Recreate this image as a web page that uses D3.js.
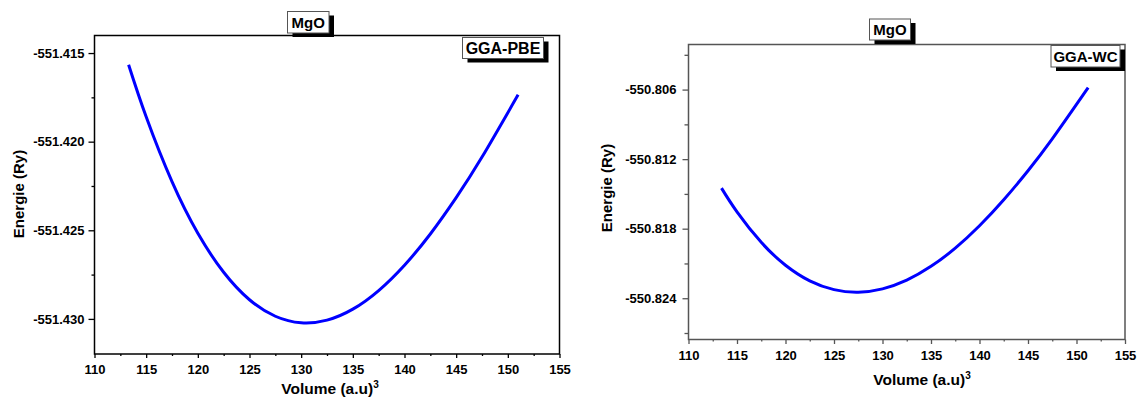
<!DOCTYPE html>
<html>
<head>
<meta charset="utf-8">
<script src="https://cdn.jsdelivr.net/npm/d3@7"></script>
<style>
  body { margin: 0; background: #fff; }
  svg { display: block; font-family: "Liberation Sans", Arial, sans-serif; }
  .tick text { font-family: "Liberation Sans", Arial, sans-serif; font-weight: bold; font-size: 13px; fill: #000; }
</style>
</head>
<body>
<svg id="chart" width="1139" height="399"></svg>
<script>
// volumes (same grid on both panels, ends differ)
const volPBE = [113.3, 115, 117.5, 120, 122.5, 125, 127.5, 130, 132.5, 135, 137.5, 140, 142.5, 145, 147.5, 151];
const enPBE = [-551.41566, -551.41860, -551.42226, -551.42517, -551.42737, -551.42892, -551.42985, -551.43022,
  -551.43007, -551.42945, -551.42840, -551.42697, -551.42521, -551.42316, -551.42087, -551.41735];

const volWC = [113.4, 115, 117.5, 120, 122.5, 125, 127.5, 130, 132.5, 135, 137.5, 140, 142.5, 145, 147.5, 151.2];
const enWC = [-550.81450, -550.81655, -550.81918, -550.82115, -550.82250, -550.82326, -550.82348, -550.82319,
  -550.82244, -550.82125, -550.81968, -550.81775, -550.81551, -550.81300, -550.81025, -550.80583];

const xTicks = [110, 115, 120, 125, 130, 135, 140, 145, 150, 155];
const yTicksPBE = [-551.415, -551.420, -551.425, -551.430];
const yTicksWC = [-550.806, -550.812, -550.818, -550.824];

const svg = d3.select('#chart');

// one panel of the figure
const panel = (p) => {
  const x = d3.scaleLinear().domain([110, 155]).range([p.left, p.right]);
  const y = d3.scaleLinear().domain(p.yDomain).range([p.bottom, p.top]);
  const g = svg.append('g');

  // minor ticks first (no labels)
  const xMinor = d3.range(112.5, 155, 5);
  g.append('g')
    .attr('transform', `translate(0,${p.bottom})`)
    .call(d3.axisBottom(x).tickValues(xMinor).tickSize(2).tickFormat(''))
    .call((a) => a.select('.domain').remove())
    .selectAll('line').attr('stroke', p.frame).attr('stroke-width', 1.3);
  g.append('g')
    .attr('transform', `translate(${p.left},0)`)
    .call(d3.axisLeft(y).tickValues(p.yMinor).tickSize(p.yMinorSize).tickFormat(''))
    .call((a) => a.select('.domain').remove())
    .selectAll('line').attr('stroke', p.frame).attr('stroke-width', 1.3);

  // major ticks
  const xa = g.append('g')
    .attr('transform', `translate(0,${p.bottom})`)
    .call(d3.axisBottom(x).tickValues(xTicks).tickSize(p.xTickSize).tickPadding(p.xPad).tickFormat(d3.format('d')));
  xa.select('.domain').remove();
  xa.selectAll('line').attr('stroke', p.frame).attr('stroke-width', 1.3);

  const ya = g.append('g')
    .attr('transform', `translate(${p.left},0)`)
    .call(d3.axisLeft(y).tickValues(p.yTicks).tickSize(p.yTickSize).tickPadding(p.yPad).tickFormat(d3.format('.3f')));
  ya.select('.domain').remove();
  ya.selectAll('line').attr('stroke', p.frame).attr('stroke-width', 1.3);
  ya.selectAll('text').text((d) => d3.format('.3f')(d).replace('−', '-'));

  // frame
  g.append('rect')
    .attr('x', p.left).attr('y', p.top)
    .attr('width', p.right - p.left).attr('height', p.bottom - p.top)
    .attr('fill', 'none').attr('stroke', p.frame).attr('stroke-width', 1.5);

  // the E(V) curve
  const pts = p.vol.map((v, i) => [v, p.en[i]]);
  g.append('path')
    .datum(pts)
    .attr('fill', 'none')
    .attr('stroke', '#0000ff')
    .attr('stroke-width', 3)
    .attr('d', d3.line().x((d) => x(d[0])).y((d) => y(d[1])).curve(d3.curveNatural));

  // axis titles
  const xt = g.append('text')
    .attr('x', p.xTitleX).attr('y', p.xTitleY)
    .attr('text-anchor', 'middle')
    .attr('font-weight', 'bold').attr('font-size', '15.5px');
  xt.append('tspan').text('Volume (a.u)');
  xt.append('tspan').attr('dy', -6).attr('font-size', '10px').text('3');

  g.append('text')
    .attr('transform', `translate(${p.yTitleX},${p.yTitleY}) rotate(-90)`)
    .attr('text-anchor', 'middle')
    .attr('font-weight', 'bold').attr('font-size', '15px')
    .text('Energie (Ry)');

  // labels in shadowed boxes
  p.boxes.forEach((b) => {
    g.append('rect')
      .attr('x', b.x + 5).attr('y', b.y + 4).attr('width', b.w).attr('height', b.h)
      .attr('fill', '#000');
    g.append('rect')
      .attr('x', b.x).attr('y', b.y).attr('width', b.w).attr('height', b.h)
      .attr('fill', '#fff').attr('stroke', '#555').attr('stroke-width', 1);
    g.append('text')
      .attr('x', b.x + b.w / 2).attr('y', b.y + b.h / 2 + b.fs * 0.36)
      .attr('text-anchor', 'middle')
      .attr('font-weight', 'bold').attr('font-size', `${b.fs}px`)
      .text(b.text);
  });
};

panel({
  left: 94.5, right: 559.5, top: 35.5, bottom: 354,
  yDomain: [-551.43198, -551.41401],
  yTicks: yTicksPBE, yMinor: [-551.4175, -551.4225, -551.4275],
  vol: volPBE, en: enPBE,
  frame: '#000',
  xTickSize: 4, xPad: 7, yTickSize: 6, yMinorSize: 3, yPad: 4,
  xTitleX: 330, xTitleY: 394,
  yTitleX: 24, yTitleY: 194,
  boxes: [
    { x: 287.5, y: 11.5, w: 41.5, h: 21.5, text: 'MgO', fs: 15 },
    { x: 462.5, y: 37.5, w: 81, h: 21, text: 'GGA-PBE', fs: 16 },
  ],
});

panel({
  left: 688.5, right: 1125, top: 44.5, bottom: 339.5,
  yDomain: [-550.82756, -550.80211],
  yTicks: yTicksWC, yMinor: [-550.803, -550.809, -550.815, -550.821, -550.827],
  vol: volWC, en: enWC,
  frame: '#555',
  xTickSize: 4.5, xPad: 7, yTickSize: 6, yMinorSize: 4, yPad: 6,
  xTitleX: 922, xTitleY: 385,
  yTitleX: 612, yTitleY: 188,
  boxes: [
    { x: 869.5, y: 19, w: 41, h: 21, text: 'MgO', fs: 15 },
    { x: 1051, y: 45.5, w: 69, h: 21.5, text: 'GGA-WC', fs: 15 },
  ],
});
</script>
</body>
</html>
